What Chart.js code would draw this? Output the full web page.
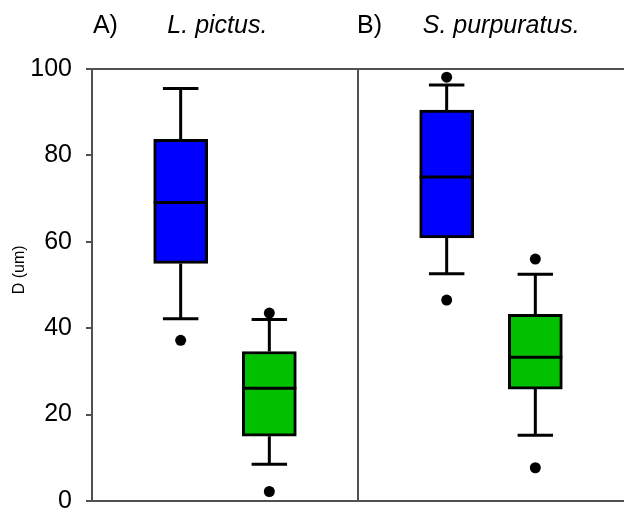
<!DOCTYPE html>
<html>
<head>
<meta charset="utf-8">
<script src="https://cdn.jsdelivr.net/npm/chart.js@4.4.1/dist/chart.umd.min.js"></script>
<style>
  html, body { margin: 0; padding: 0; background: #fff; overflow: hidden; }
  #wrap { width: 624px; height: 508px; }
  #chart { display: block; }
</style>
</head>
<body>
<div id="wrap"><canvas id="chart"></canvas></div>
<script>
// two species, each with a blue and a green group
const species = ["L. pictus.", "S. purpuratus."];
const panelTags = ["A)", "B)"];
const groupSlots = [1, 2, 4, 5];
const boxColors = ["#0000ff", "#00c000", "#0000ff", "#00c000"];

// D (um) box summaries, one entry per box
const whiskerLow = [42.2, 8.5, 52.6, 15.2];
const quart1 = [55.0, 15.0, 60.9, 25.9];
const medians = [69.1, 26.1, 75.0, 33.3];
const quart3 = [83.7, 34.6, 90.5, 43.2];
const whiskerHigh = [95.5, 42.0, 96.3, 52.5];
const outliers = [[37.2], [43.5, 2.2], [98.1, 46.5], [56.0, 7.7]];

const yTicks = [0, 20, 40, 60, 80, 100];

const FONT = "'Liberation Sans', Arial, sans-serif";
const AXIS_GREY = "#505050";

// frame lines, whiskers, medians and the panel headings
const boxParts = {
  id: "boxParts",
  beforeDatasetsDraw(chart) {
    const { ctx, chartArea: a, scales: { x, y } } = chart;
    ctx.save();
    ctx.strokeStyle = AXIS_GREY;
    ctx.lineWidth = 2;
    ctx.beginPath();
    ctx.moveTo(a.left, a.top);
    ctx.lineTo(a.right, a.top);
    ctx.moveTo(a.left, a.bottom);
    ctx.lineTo(a.right, a.bottom);
    const mid = x.getPixelForValue(3);
    ctx.moveTo(mid, a.top);
    ctx.lineTo(mid, a.bottom);
    ctx.stroke();

    ctx.strokeStyle = "#000";
    ctx.lineWidth = 3;
    groupSlots.forEach((slot, i) => {
      const cx = x.getPixelForValue(slot);
      const half = x.getPixelForValue(slot + 0.2) - cx;
      const lo = y.getPixelForValue(whiskerLow[i]);
      const hi = y.getPixelForValue(whiskerHigh[i]);
      ctx.beginPath();
      ctx.moveTo(cx, y.getPixelForValue(quart3[i]));
      ctx.lineTo(cx, hi);
      ctx.moveTo(cx, y.getPixelForValue(quart1[i]));
      ctx.lineTo(cx, lo);
      ctx.moveTo(cx - half, hi);
      ctx.lineTo(cx + half, hi);
      ctx.moveTo(cx - half, lo);
      ctx.lineTo(cx + half, lo);
      ctx.stroke();
    });
    ctx.restore();
  },
  afterDatasetsDraw(chart) {
    const { ctx, scales: { x, y } } = chart;
    const bars = chart.getDatasetMeta(0).data;
    ctx.save();
    ctx.strokeStyle = "#000";
    ctx.lineWidth = 3;
    groupSlots.forEach((slot, i) => {
      const cx = x.getPixelForValue(slot);
      const half = bars[i].width / 2;
      const my = y.getPixelForValue(medians[i]);
      ctx.beginPath();
      ctx.moveTo(cx - half, my);
      ctx.lineTo(cx + half, my);
      ctx.stroke();
    });
    ctx.restore();
  },
  afterDraw(chart) {
    const { ctx, scales: { x, y } } = chart;
    ctx.save();
    ctx.fillStyle = "#000";
    ctx.textBaseline = "alphabetic";
    ctx.textAlign = "left";
    const tagAt = [0.01, 2.99];
    const nameAt = [0.85, 3.73];
    species.forEach((name, p) => {
      ctx.font = "25px " + FONT;
      ctx.fillText(panelTags[p], x.getPixelForValue(tagAt[p]), 33);
      ctx.font = "italic 25px " + FONT;
      ctx.fillText(name, x.getPixelForValue(nameAt[p]), 33);
    });

    // y axis title
    ctx.translate(20, y.getPixelForValue(53.5));
    ctx.rotate(-Math.PI / 2);
    ctx.textAlign = "center";
    ctx.textBaseline = "middle";
    ctx.font = "16px " + FONT;
    ctx.fillText("D (um)", 0, 0);
    ctx.restore();
  }
};

new Chart(document.getElementById("chart"), {
  type: "bar",
  data: {
    datasets: [
      {
        type: "bar",
        data: groupSlots.map((slot, i) => ({ x: slot, y: [quart1[i], quart3[i]] })),
        backgroundColor: boxColors,
        borderColor: "#000",
        borderWidth: 3,
        borderSkipped: false,
        barThickness: 54,
        order: 2
      },
      {
        type: "scatter",
        data: outliers.flatMap((vals, i) => vals.map(v => ({ x: groupSlots[i], y: v }))),
        pointRadius: 5.5,
        backgroundColor: "#000",
        borderWidth: 0,
        order: 1
      }
    ]
  },
  options: {
    responsive: true,
    maintainAspectRatio: false,
    animation: false,
    layout: { autoPadding: false, padding: { left: 0, right: 0, top: 69, bottom: 7 } },
    plugins: {
      legend: { display: false },
      tooltip: { enabled: false }
    },
    scales: {
      x: { type: "linear", min: 0, max: 6, offset: false, display: false },
      y: {
        min: 0,
        max: 100,
        afterBuildTicks: s => { s.ticks = yTicks.map(v => ({ value: v })); },
        afterFit: s => {
          s.width = 92;
          // let the "0" label run off the bottom edge
          s.paddingTop = 0;
          s.paddingBottom = 0;
        },
        border: { color: AXIS_GREY, width: 2 },
        grid: { drawOnChartArea: false, tickLength: 6, color: AXIS_GREY, lineWidth: 2 },
        ticks: { color: "#000", padding: 14, font: { family: FONT, size: 25 } }
      }
    }
  },
  plugins: [boxParts]
});
</script>
</body>
</html>
